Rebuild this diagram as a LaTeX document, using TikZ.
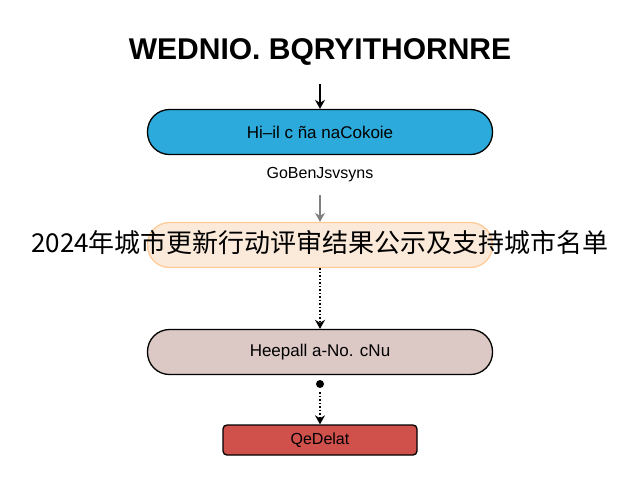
\documentclass[tikz,border=0pt]{standalone}
\usepackage{fontspec}
\setmainfont{Liberation Sans}
\newfontfamily\cjk{Noto Sans CJK SC}
\usetikzlibrary{arrows.meta}
\definecolor{cblue}{HTML}{2BAADB}
\definecolor{cpeach}{HTML}{FBE9DA}
\definecolor{cmauve}{HTML}{DCC8C4}
\definecolor{cred}{HTML}{D0504C}
\begin{document}
\begin{tikzpicture}[x=1pt,y=-1pt,
  pill/.style={draw=black,line width=1.3pt,rounded corners=22pt,minimum width=345pt,minimum height=45pt,font=\fontsize{17}{20}\selectfont},
  arr/.style={-{Stealth[length=9pt,width=10pt]},line width=1.3pt},
  dotarr/.style={-{Stealth[length=9pt,width=10pt]},line width=1.5pt,dotted}]
\useasboundingbox (0,0) rectangle (640,480);
\node[font=\bfseries\fontsize{30}{34}\selectfont] (title) at (320,52) {WEDNIO. BQRYITHORNRE};
\node[pill,fill=cblue] (b1) at (320,132) {Hi–il c ña naCokoie};
\node[font=\fontsize{16}{19}\selectfont] (sub) at (320,175) {GoBenJsvsyns};
\node[pill,fill=cpeach,draw=orange!40] (b2) at (320,245) {};
\node[font=\cjk\fontsize{26}{30}\selectfont] (cn) at (320,243) {2024年城市更新行动评审结果公示及支持城市名单};
\node[pill,fill=cmauve] (b3) at (320,352) {Heepall a-No. cNu};
\node[draw=black,line width=1.3pt,rounded corners=4pt,fill=cred,minimum width=194pt,minimum height=30pt,font=\fontsize{16}{19}\selectfont] (b4) at (320,440) {QeDelat};
\coordinate (d1) at (320,384);
\fill (d1) circle (4pt);
\draw[arr] (320,84) -- (b1.north);
\draw[arr,draw=gray] (320,195) -- (b2.north);
\draw[dotarr] (b2.south) -- (b3.north);
\draw[dotarr] (d1) ++(0,8) -- (b4.north);
\end{tikzpicture}
\end{document}
